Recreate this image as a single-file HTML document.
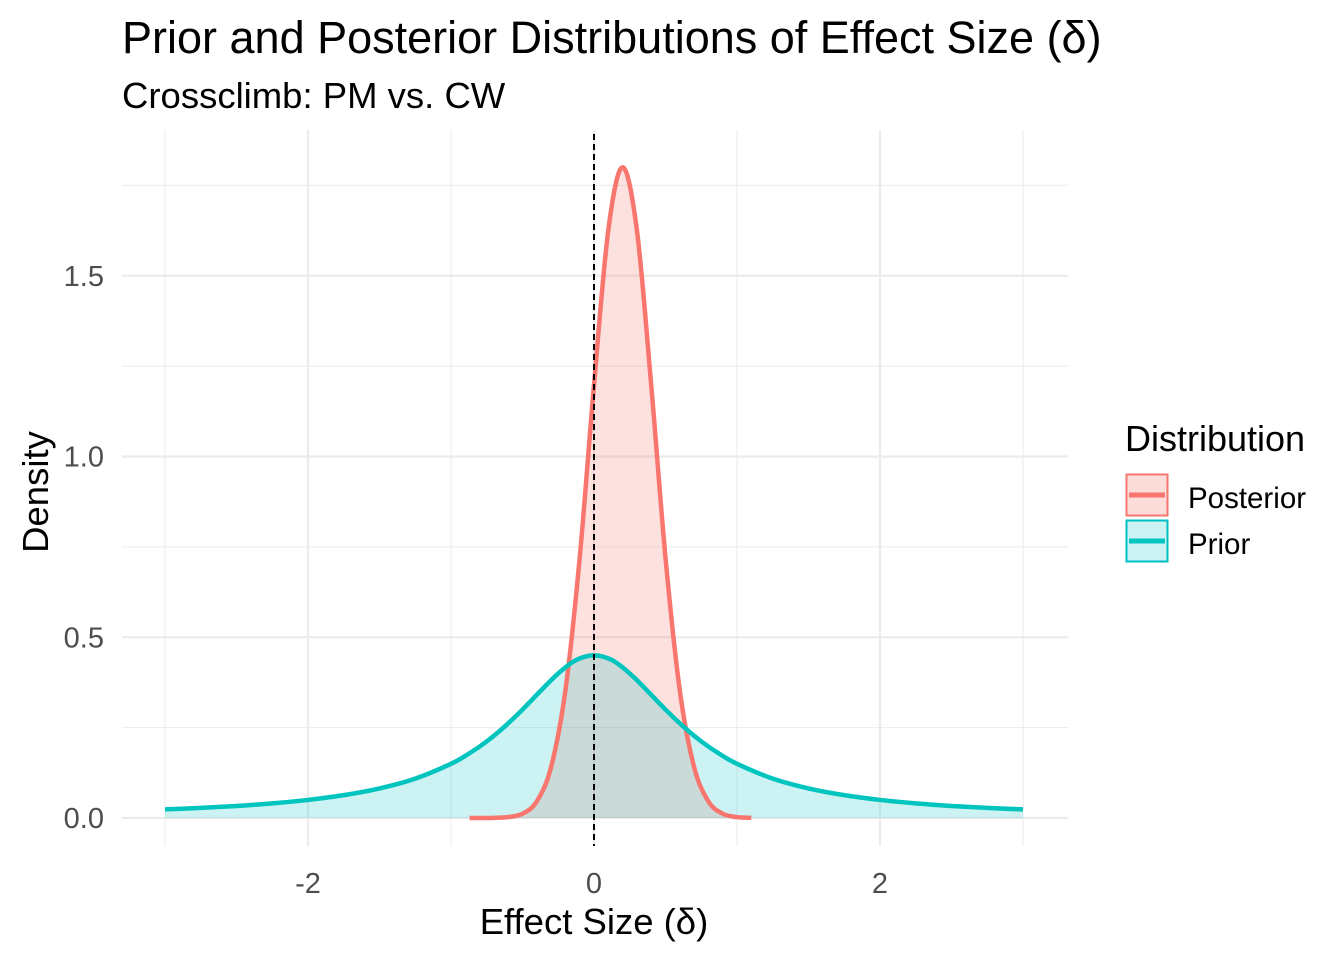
<!DOCTYPE html>
<html><head><meta charset="utf-8"><style>
body{margin:0;background:#fff;}
svg text{font-family:"Liberation Sans",Arial,sans-serif;}
</style></head><body>
<svg id="chart" width="1344" height="960" viewBox="0 0 1344 960" xmlns="http://www.w3.org/2000/svg">
<rect width="1344" height="960" fill="#fff"/>
<g id="grid"></g>
<g id="marks"></g>
<g id="axes"></g>
<text x="122" y="53" font-size="45" fill="#000">Prior and Posterior Distributions of Effect Size (δ)</text>
<text x="122" y="108" font-size="36.5" fill="#000">Crossclimb: PM vs. CW</text>
<text x="594" y="934" font-size="36.5" text-anchor="middle" fill="#000">Effect Size (δ)</text>
<text transform="translate(48,492) rotate(-90)" font-size="36.5" text-anchor="middle" fill="#000">Density</text>
<g>
<text x="1125" y="451" font-size="36" fill="#000">Distribution</text>
<g>
<rect x="1126.5" y="474.5" width="41" height="41" fill="#F8766D" fill-opacity="0.25" stroke="#F8766D" stroke-width="2"/>
<line x1="1129" y1="495" x2="1165" y2="495" stroke="#F8766D" stroke-width="5"/>
<text x="1188" y="508" font-size="29.5" fill="#000">Posterior</text></g>
<g>
<rect x="1126.5" y="520.5" width="41" height="41" fill="#00BFC4" fill-opacity="0.2" stroke="#00BFC4" stroke-width="2"/>
<line x1="1129" y1="541" x2="1165" y2="541" stroke="#00C4BE" stroke-width="5"/>
<text x="1188" y="554" font-size="29.5" fill="#000">Prior</text></g>
</g>
</svg>
<script>
const priorX=[-3,-2.75,-2.5,-2.25,-2,-1.75,-1.5,-1.25,-1,-0.875,-0.75,-0.625,-0.5,-0.375,-0.25,-0.125,0,0.125,0.25,0.375,0.5,0.625,0.75,0.875,1,1.25,1.5,1.75,2,2.25,2.5,2.75,3];
const priorY=[0.0237,0.0279,0.0333,0.0405,0.050,0.0632,0.0819,0.109,0.150,0.178,0.212,0.253,0.300,0.351,0.400,0.437,0.450,0.437,0.400,0.351,0.300,0.253,0.212,0.178,0.150,0.109,0.0819,0.0632,0.050,0.0405,0.0333,0.0279,0.0237];
const postX=[-0.87,-0.8,-0.7,-0.6,-0.5,-0.4,-0.3,-0.2,-0.1,0,0.1,0.2,0.3,0.4,0.5,0.6,0.7,0.8,0.9,1.0,1.1];
const postY=[0,0,0.0005,0.0026,0.012,0.046,0.141,0.353,0.720,1.198,1.626,1.80,1.626,1.198,0.720,0.353,0.141,0.046,0.012,0.0026,0.0005];
const xTicks=[-2,0,2];
const xTickLabels=["-2","0","2"];
const yTicks=[0,0.5,1.0,1.5];
const yTickLabels=["0.0","0.5","1.0","1.5"];
const xMinor=[-3,-1,1,3];
const yMinor=[0.25,0.75,1.25,1.75];
const vline=[0];

const NS="http://www.w3.org/2000/svg";
const xs=v=>594+v*143;
const ys=v=>818-v*361.5;
const PL=122,PR=1068,PT=130,PB=846;
function mk(tag,attrs,parent){const e=document.createElementNS(NS,tag);for(const k in attrs)e.setAttribute(k,attrs[k]);parent.appendChild(e);return e;}
const grid=document.getElementById('grid'),marks=document.getElementById('marks'),axes=document.getElementById('axes');
xMinor.forEach(v=>{const l=mk('line',{x1:xs(v),x2:xs(v),y1:PT,y2:PB,stroke:'#ebebeb','stroke-width':1},grid);

});
yMinor.forEach(v=>{const l=mk('line',{x1:PL,x2:PR,y1:ys(v),y2:ys(v),stroke:'#ebebeb','stroke-width':1},grid);

});
xTicks.forEach((v,i)=>{const l=mk('line',{x1:xs(v),x2:xs(v),y1:PT,y2:PB,stroke:'#ebebeb','stroke-width':2.2},grid);


const t=mk('text',{x:xs(v),y:893,'font-size':29,fill:'#4d4d4d','text-anchor':'middle'},axes);t.textContent=xTickLabels[i];

});
yTicks.forEach((v,i)=>{const l=mk('line',{x1:PL,x2:PR,y1:ys(v),y2:ys(v),stroke:'#ebebeb','stroke-width':2.2},grid);


const t=mk('text',{x:104,y:ys(v)+10,'font-size':29,fill:'#4d4d4d','text-anchor':'end'},axes);t.textContent=yTickLabels[i];

});
function smooth(X,Y){const p=X.map((x,i)=>[xs(x),ys(Y[i])]);let d=`M${p[0][0]},${p[0][1]}`;
for(let i=0;i<p.length-1;i++){const p0=p[i-1]||p[i],p1=p[i],p2=p[i+1],p3=p[i+2]||p2;
const c1=[p1[0]+(p2[0]-p0[0])/6,p1[1]+(p2[1]-p0[1])/6],c2=[p2[0]-(p3[0]-p1[0])/6,p2[1]-(p3[1]-p1[1])/6];
d+=` C${c1[0]},${c1[1]} ${c2[0]},${c2[1]} ${p2[0]},${p2[1]}`;}return d;}
function series(X,Y,col,op,name){
const d=smooth(X,Y);
const a=mk('path',{d:d+` L${xs(X[X.length-1])},${ys(0)} L${xs(X[0])},${ys(0)} Z`,fill:col,'fill-opacity':op,stroke:'none'},marks);


return d;}
const dPost=series(postX,postY,'#F8766D',0.22,'posterior');
const dPrior=series(priorX,priorY,'#00BFC4',0.2,'prior');
const l1=mk('path',{d:dPost,fill:'none',stroke:'#F8766D','stroke-width':4.5},marks);


const l2=mk('path',{d:dPrior,fill:'none',stroke:'#00C4BE','stroke-width':4.5},marks);


vline.forEach(v=>{const l=mk('line',{x1:xs(v),x2:xs(v),y1:PT+4,y2:PB,stroke:'#000','stroke-width':2,'stroke-dasharray':'6,4'},marks);

});
</script>
</body></html>
